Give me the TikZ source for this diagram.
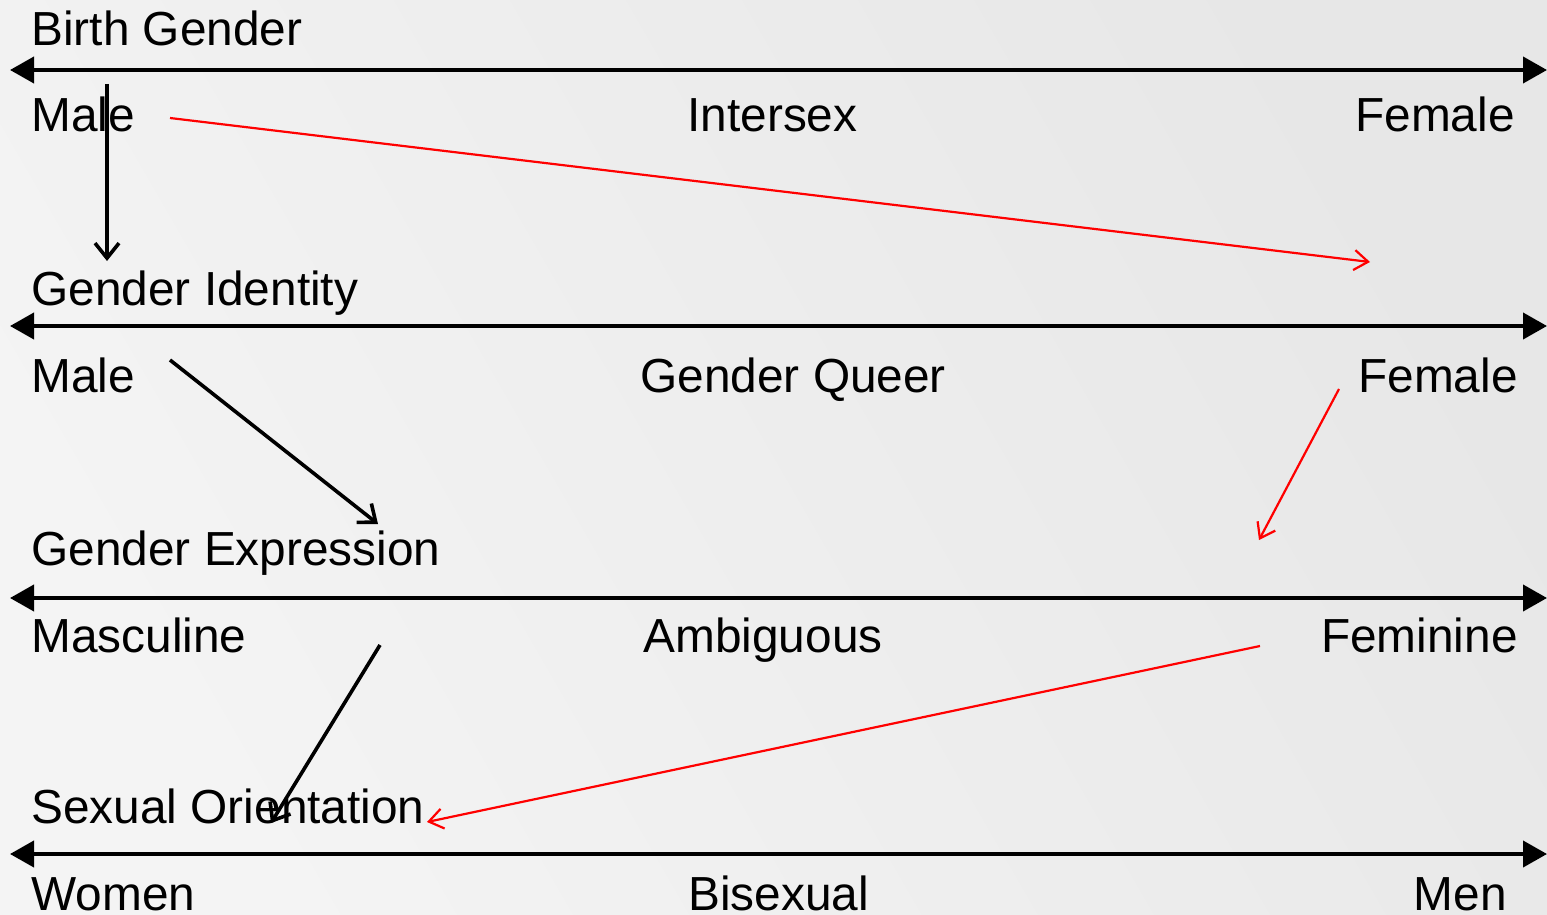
\documentclass[tikz,border=0pt]{standalone}
\usepackage{fontspec}
\setmainfont{Liberation Sans}
\usetikzlibrary{arrows.meta}
\definecolor{bgA}{HTML}{F4F4F4}
\definecolor{bgB}{HTML}{E7E7E7}
\definecolor{redline}{HTML}{FF0000}
\begin{document}
\begin{tikzpicture}[x=0.5pt,y=-0.5pt,
  lbl/.style={inner sep=0pt,font=\fontsize{23.9pt}{26pt}\selectfont},
  axis/.style={line width=2pt,{Triangle[length=12pt,width=13pt]}-{Triangle[length=12pt,width=13pt]}},
  blk/.style={line width=1.8pt,-{Straight Barb[length=7.5pt,width=12pt,line width=1.8pt]}},
  redarr/.style={redline,line width=1.1pt,-{Straight Barb[length=7pt,width=10pt,line width=1.1pt]}}]
\shade[left color=bgA,right color=bgB,shading angle=120] (0,0) rectangle (1547,915);
\useasboundingbox (0,0) rectangle (1547,915);
% axes
\coordinate (a1l) at (10,70); \coordinate (a1r) at (1547,70);
\coordinate (a2l) at (10,326); \coordinate (a2r) at (1547,326);
\coordinate (a3l) at (10,598); \coordinate (a3r) at (1547,598);
\coordinate (a4l) at (10,854); \coordinate (a4r) at (1547,854);
\draw[axis] (a1l) -- (a1r);
\draw[axis] (a2l) -- (a2r);
\draw[axis] (a3l) -- (a3r);
\draw[axis] (a4l) -- (a4r);
% labels
\node[lbl,anchor=base west] (t1) at (31,46) {Birth Gender};
\node[lbl,anchor=base west] (m1) at (31,132) {Male};
\node[lbl,anchor=base west] (i1) at (687,132) {Intersex};
\node[lbl,anchor=base east] (f1) at (1515,132) {Female};
\node[lbl,anchor=base west] (t2) at (31,305) {Gender Identity};
\node[lbl,anchor=base west] (m2) at (31,392) {Male};
\node[lbl,anchor=base west] (q2) at (640,392) {Gender Queer};
\node[lbl,anchor=base east] (f2) at (1518,392) {Female};
\node[lbl,anchor=base west] (t3) at (31,565) {Gender Expression};
\node[lbl,anchor=base west] (m3) at (31,652) {Masculine};
\node[lbl,anchor=base west] (a3) at (643,652) {Ambiguous};
\node[lbl,anchor=base east] (f3) at (1518,652) {Feminine};
\node[lbl,anchor=base west] (t4) at (31,823) {Sexual Orientation};
\node[lbl,anchor=base west] (w4) at (31,910) {Women};
\node[lbl,anchor=base west] (b4) at (688,910) {Bisexual};
\node[lbl,anchor=base east] (n4) at (1507,910) {Men};
% connectors
\coordinate (p1s) at (107,84);  \coordinate (p1e) at (107,261);
\coordinate (p2s) at (170,118); \coordinate (p2e) at (1370,262);
\coordinate (p3s) at (170,360); \coordinate (p3e) at (378,524);
\coordinate (p4s) at (1339,389); \coordinate (p4e) at (1259,540);
\coordinate (p5s) at (380,645); \coordinate (p5e) at (271,823);
\coordinate (p6s) at (1260,646); \coordinate (p6e) at (427,822);
\draw[blk] (p1s) -- (p1e);
\draw[redarr] (p2s) -- (p2e);
\draw[blk] (p3s) -- (p3e);
\draw[redarr] (p4s) -- (p4e);
\draw[blk] (p5s) -- (p5e);
\draw[redarr] (p6s) -- (p6e);
\end{tikzpicture}
\end{document}
